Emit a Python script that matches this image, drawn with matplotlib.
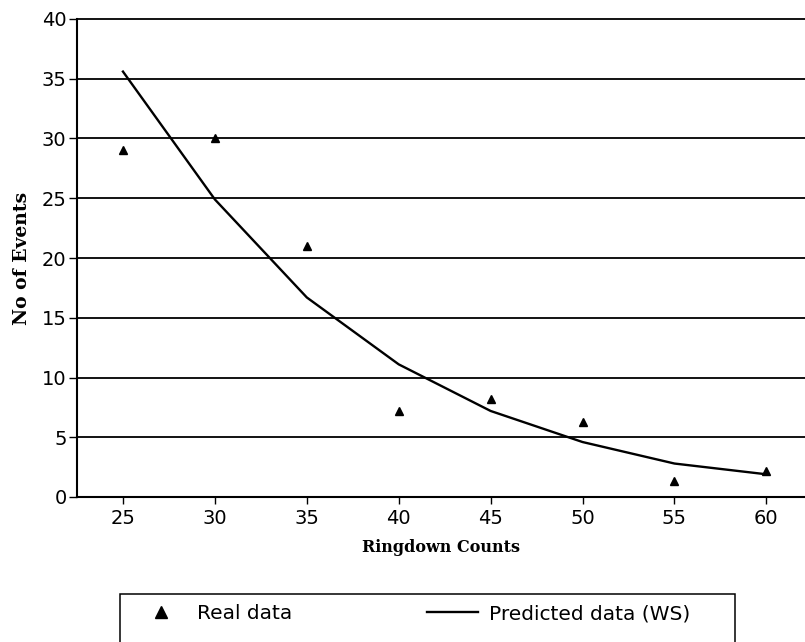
import numpy as np
from matplotlib import pyplot as plt
from matplotlib.patches import Rectangle

# ringdown counts vs number of events
counts = [25, 30, 35, 40, 45, 50, 55, 60]
real_events = [29, 30, 21, 7.2, 8.2, 6.3, 1.3, 2.2]
predicted_events = [35.6, 24.9, 16.7, 11.1, 7.2, 4.6, 2.8, 1.9]
y_ticks = [0, 5, 10, 15, 20, 25, 30, 35, 40]

W, H = 805, 642
fig = plt.figure(figsize=(W / 100, H / 100), dpi=100)
ax = fig.add_axes([77 / W, (H - 497) / H, 728 / W, 478 / H])

# horizontal grid lines
for yv in y_ticks[1:]:
    ax.axhline(yv, color="black", linewidth=1.3, zorder=1, clip_on=False)

ax.plot(counts, predicted_events, color="black", linewidth=1.7,
        label="Predicted data (WS)", zorder=3)
ax.plot(counts, real_events, linestyle="none", marker="^", color="black",
        markersize=6, label="Real data", zorder=4)

ax.set_xlim(22.5, 62.1)
ax.set_ylim(0, 40)
ax.set_xticks(counts)
ax.set_yticks(y_ticks)

for side in ["top", "right"]:
    ax.spines[side].set_visible(False)
ax.spines["left"].set_linewidth(1.5)
ax.spines["bottom"].set_linewidth(1.5)
ax.tick_params(direction="out", width=1, labelsize=14)
ax.tick_params(axis="y", length=6, pad=1.5)
ax.tick_params(axis="x", length=5, pad=3.5)

ax.set_xlabel("Ringdown Counts", family="DejaVu Serif", fontweight="bold",
              fontsize=11.5, labelpad=8)
ax.set_ylabel("No of Events", family="DejaVu Serif", fontweight="bold",
              fontsize=13.5, labelpad=8)

# legend box (runs off the bottom of the figure)
fig.patches.append(Rectangle((120 / W, -0.05), 615 / W, (H - 594) / H + 0.05,
                             transform=fig.transFigure, fill=False,
                             edgecolor="black", linewidth=1.1))

handles, labels = ax.get_legend_handles_labels()
leg = fig.legend([handles[1], handles[0]], [labels[1], labels[0]], ncol=2,
                 loc="upper left", bbox_to_anchor=(135 / W, (H - 604) / H),
                 frameon=False, fontsize=14.5, borderpad=0, borderaxespad=0,
                 handlelength=2.55, handletextpad=0.55, columnspacing=6.65,
                 markerscale=1.4)

plt.savefig("out.png", dpi=100)
